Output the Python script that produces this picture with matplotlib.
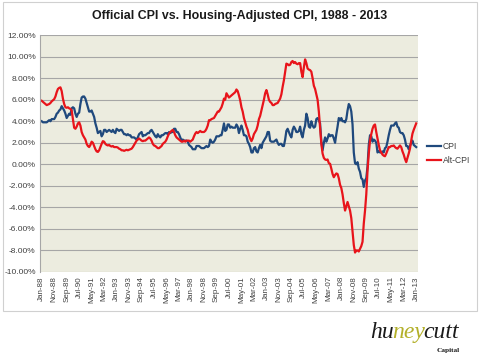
import numpy as np
import pandas as pd
import matplotlib
matplotlib.use("Agg")
import matplotlib.pyplot as plt
from matplotlib.patches import Rectangle

# monthly year-over-year inflation, Jan-88 .. Jan-13 (percent)
cpi = [
    4.0, 3.9, 3.9, 3.9, 3.9, 4.0, 4.1, 4.0, 4.2, 4.2, 4.2, 4.4,   # 1988
    4.7, 4.8, 5.0, 5.1, 5.4, 5.2, 5.0, 4.7, 4.3, 4.5, 4.7, 4.6,   # 1989
    5.2, 5.3, 5.2, 4.7, 4.4, 4.7, 4.8, 5.6, 6.2, 6.3, 6.3, 6.1,   # 1990
    5.7, 5.3, 4.9, 4.9, 5.0, 4.7, 4.4, 3.8, 3.4, 2.9, 3.0, 3.1,   # 1991
    2.6, 2.8, 3.2, 3.2, 3.0, 3.1, 3.2, 3.1, 3.0, 3.2, 3.0, 2.9,   # 1992
    3.3, 3.2, 3.1, 3.2, 3.2, 3.0, 2.8, 2.8, 2.7, 2.8, 2.7, 2.7,   # 1993
    2.5, 2.5, 2.5, 2.4, 2.3, 2.5, 2.8, 2.9, 3.0, 2.6, 2.7, 2.7,   # 1994
    2.8, 2.9, 2.9, 3.1, 3.2, 3.0, 2.8, 2.6, 2.5, 2.8, 2.6, 2.5,   # 1995
    2.7, 2.7, 2.8, 2.9, 2.9, 2.8, 3.0, 2.9, 3.0, 3.0, 3.3, 3.3,   # 1996
    3.0, 3.0, 2.8, 2.5, 2.2, 2.3, 2.2, 2.2, 2.2, 2.1, 1.8, 1.7,   # 1997
    1.6, 1.4, 1.4, 1.4, 1.7, 1.7, 1.7, 1.6, 1.5, 1.5, 1.5, 1.6,   # 1998
    1.7, 1.6, 1.7, 2.3, 2.1, 2.0, 2.1, 2.3, 2.6, 2.6, 2.6, 2.7,   # 1999
    2.7, 3.2, 3.8, 3.1, 3.2, 3.7, 3.7, 3.4, 3.5, 3.4, 3.4, 3.4,   # 2000
    3.7, 3.5, 2.9, 3.3, 3.6, 3.2, 2.7, 2.7, 2.6, 2.1, 1.9, 1.6,   # 2001
    1.1, 1.1, 1.5, 1.6, 1.2, 1.1, 1.5, 1.8, 1.5, 2.0, 2.2, 2.4,   # 2002
    2.6, 3.0, 3.0, 2.2, 2.1, 2.1, 2.1, 2.2, 2.3, 2.0, 1.8, 1.9,   # 2003
    1.9, 1.7, 1.7, 2.3, 3.1, 3.3, 3.0, 2.7, 2.5, 3.2, 3.5, 3.3,   # 2004
    3.0, 3.0, 3.1, 3.5, 2.8, 2.5, 3.2, 3.6, 4.7, 4.3, 3.5, 3.4,   # 2005
    4.0, 3.6, 3.4, 3.5, 4.2, 4.3, 4.1, 3.8, 2.1, 1.3, 2.0, 2.5,   # 2006
    2.1, 2.4, 2.8, 2.6, 2.7, 2.7, 2.4, 2.0, 2.8, 3.5, 4.3, 4.1,   # 2007
    4.3, 4.0, 4.0, 3.9, 4.2, 5.0, 5.6, 5.4, 4.9, 3.7, 1.1, 0.1,   # 2008
    0.0, 0.2, -0.4, -0.7, -1.3, -1.4, -2.1, -1.5, -1.3, -0.2, 1.8, 2.7,  # 2009
    2.6, 2.1, 2.3, 2.2, 2.0, 1.1, 1.2, 1.1, 1.1, 1.2, 1.1, 1.5,   # 2010
    1.6, 2.1, 2.7, 3.2, 3.6, 3.6, 3.6, 3.8, 3.9, 3.5, 3.4, 3.0,   # 2011
    2.9, 2.9, 2.7, 2.3, 1.7, 1.7, 1.4, 1.7, 2.0, 2.2, 1.8, 1.7,   # 2012
    1.6,                                                          # 2013
]

alt_cpi = [
    5.9, 5.8, 5.7, 5.6, 5.5, 5.55, 5.6, 5.7, 5.85, 5.95, 6.05, 6.3,   # 1988
    6.7, 7.0, 7.1, 7.15, 6.8, 6.1, 5.6, 5.3, 5.25, 5.3, 5.2, 5.15,   # 1989
    5.0, 4.2, 3.4, 3.3, 3.5, 3.8, 3.9, 3.6, 3.0, 2.7, 2.5, 2.3,      # 1990
    1.9, 1.7, 1.6, 1.8, 2.1, 2.0, 1.7, 1.4, 1.2, 1.15, 1.3, 1.6,     # 1991
    1.9, 2.15, 2.1, 1.9, 1.8, 1.75, 1.8, 1.7, 1.65, 1.7, 1.6, 1.6,   # 1992
    1.6, 1.55, 1.45, 1.4, 1.3, 1.3, 1.25, 1.3, 1.35, 1.3, 1.35, 1.4, # 1993
    1.45, 1.6, 1.8, 2.0, 2.2, 2.3, 2.4, 2.3, 2.2, 2.15, 2.2, 2.2,    # 1994
    2.3, 2.4, 2.5, 2.4, 2.2, 1.9, 1.75, 1.7, 1.6, 1.5, 1.5, 1.6,     # 1995
    1.7, 1.9, 2.0, 2.1, 2.3, 2.6, 2.85, 3.0, 3.1, 3.2, 3.0, 2.7,     # 1996
    2.5, 2.4, 2.3, 2.2, 2.1, 2.1, 2.2, 2.1, 2.2, 2.2, 2.2, 2.1,      # 1997
    2.2, 2.3, 2.6, 2.85, 3.0, 2.9, 3.0, 3.1, 3.0, 3.0, 3.0, 3.1,     # 1998
    3.3, 3.6, 4.1, 4.1, 4.2, 4.25, 4.3, 4.5, 4.7, 4.9, 4.9, 5.1,     # 1999
    5.3, 5.65, 6.1, 6.0, 6.6, 6.4, 6.2, 6.3, 6.4, 6.5, 6.6, 6.7,     # 2000
    6.95, 6.8, 6.4, 5.95, 5.3, 4.9, 4.3, 3.9, 3.5, 3.2, 2.7, 2.4,    # 2001
    2.15, 2.4, 2.8, 3.0, 3.2, 3.6, 4.2, 4.5, 5.0, 5.5, 6.0, 6.6,     # 2002
    6.9, 6.5, 6.0, 5.8, 5.7, 5.5, 5.5, 5.6, 5.65, 5.7, 5.9, 6.1,     # 2003
    6.5, 7.2, 7.8, 8.6, 9.35, 9.3, 9.2, 9.25, 9.5, 9.6, 9.4, 9.5,    # 2004
    9.35, 9.3, 9.4, 9.4, 8.6, 8.1, 9.0, 9.75, 9.4, 8.9, 8.8, 8.75,   # 2005
    8.6, 8.0, 7.3, 7.0, 6.5, 6.0, 4.9, 3.4, 1.9, 1.0, 0.6, 0.45,     # 2006
    0.4, 0.45, 0.1, 0.05, -0.4, -0.9, -1.2, -1.0, -0.85, -0.9, -1.3, -1.9,  # 2007
    -2.2, -2.8, -3.6, -4.3, -3.9, -3.5, -3.9, -4.3, -5.0, -6.3, -7.5, -8.2, # 2008
    -8.0, -8.0, -8.1, -7.85, -7.6, -7.2, -5.5, -4.3, -2.8, -0.6, 1.0, 2.2,  # 2009
    2.8, 3.3, 3.6, 3.7, 3.0, 2.4, 1.8, 1.3, 1.1, 0.9, 0.8, 0.75,     # 2010
    1.0, 1.3, 1.6, 1.6, 1.7, 1.7, 1.75, 1.6, 1.5, 1.45, 1.6, 1.75,   # 2011
    1.6, 1.2, 0.9, 0.5, 0.2, 0.6, 1.0, 1.45, 2.2, 2.85, 3.2, 3.5,    # 2012
    3.8,                                                             # 2013
]

months = pd.date_range("1988-01-01", periods=len(cpi), freq="MS")
month_labels = [d.strftime("%b-%y") for d in months]
y_ticks = np.arange(-10, 13, 2)

plt.rcParams['font.family'] = ['Liberation Sans', 'DejaVu Sans']

fig = plt.figure(figsize=(4.8, 3.55), dpi=100)
fig.patch.set_facecolor("white")
# light outer chart border
fig.add_artist(Rectangle((0.006, 0.125), 0.988, 0.868, transform=fig.transFigure,
                         fill=False, edgecolor="#D0D0D0", linewidth=0.8))

ax = fig.add_axes([0.083, 0.234, 0.788, 0.667])
ax.set_facecolor("#ECECDF")

x = np.arange(len(cpi))
ax.plot(x, cpi, color="#1F497D", linewidth=1.6, label="CPI")
ax.plot(x, alt_cpi, color="#E8141B", linewidth=1.6, label="Alt-CPI")

ax.set_ylim(-10, 12)
ax.set_yticks(y_ticks)
ax.set_yticklabels([f"{v:.2f}%" for v in y_ticks], fontsize=6, color="#404040")
ax.yaxis.grid(True, color="#A6A6A6", linewidth=0.8)
ax.set_axisbelow(True)

ax.set_xlim(-1.5, len(cpi) + 0.5)
tick_pos = x[::10]
ax.set_xticks(tick_pos)
ax.set_xticklabels([month_labels[i] for i in tick_pos], rotation=90,
                   fontsize=5.8, color="#404040")
ax.tick_params(axis="both", length=0, pad=3)

for s in ["top", "right", "bottom"]:
    ax.spines[s].set_visible(False)
ax.spines["left"].set_color("#A6A6A6")

leg = ax.legend(loc="center left", bbox_to_anchor=(1.0, 0.5), frameon=False,
                fontsize=6.2, handlelength=1.7, handletextpad=0.2, labelspacing=0.6,
                borderaxespad=0.6)
for t in leg.get_texts():
    t.set_color("#404040")

fig.text(0.5, 0.955, "Official CPI vs. Housing-Adjusted CPI, 1988 - 2013",
         ha="center", va="center", fontsize=8.9, fontweight="bold", color="#1A1A1A")

# logo
logo_font = dict(fontsize=17, fontstyle="italic", family="Liberation Serif", va="bottom")
t1 = fig.text(0.772, 0.035, "hu", color="#1A1A1A", **logo_font)
t2 = fig.add_artist(plt.Annotation("ney", xy=(1, 0), xycoords=t1, xytext=(-1.5, 0),
                                   textcoords="offset points", color="#B3B02A", **logo_font))
t3 = fig.add_artist(plt.Annotation("cutt", xy=(1, 0), xycoords=t2, xytext=(-1.5, 0),
                                   textcoords="offset points", color="#1A1A1A", **logo_font))
fig.text(0.958, 0.005, "Capital", fontsize=5.3, fontweight="bold",
         family="Liberation Serif", color="#1A1A1A", ha="right", va="bottom")

fig.savefig("out.png", dpi=100)
